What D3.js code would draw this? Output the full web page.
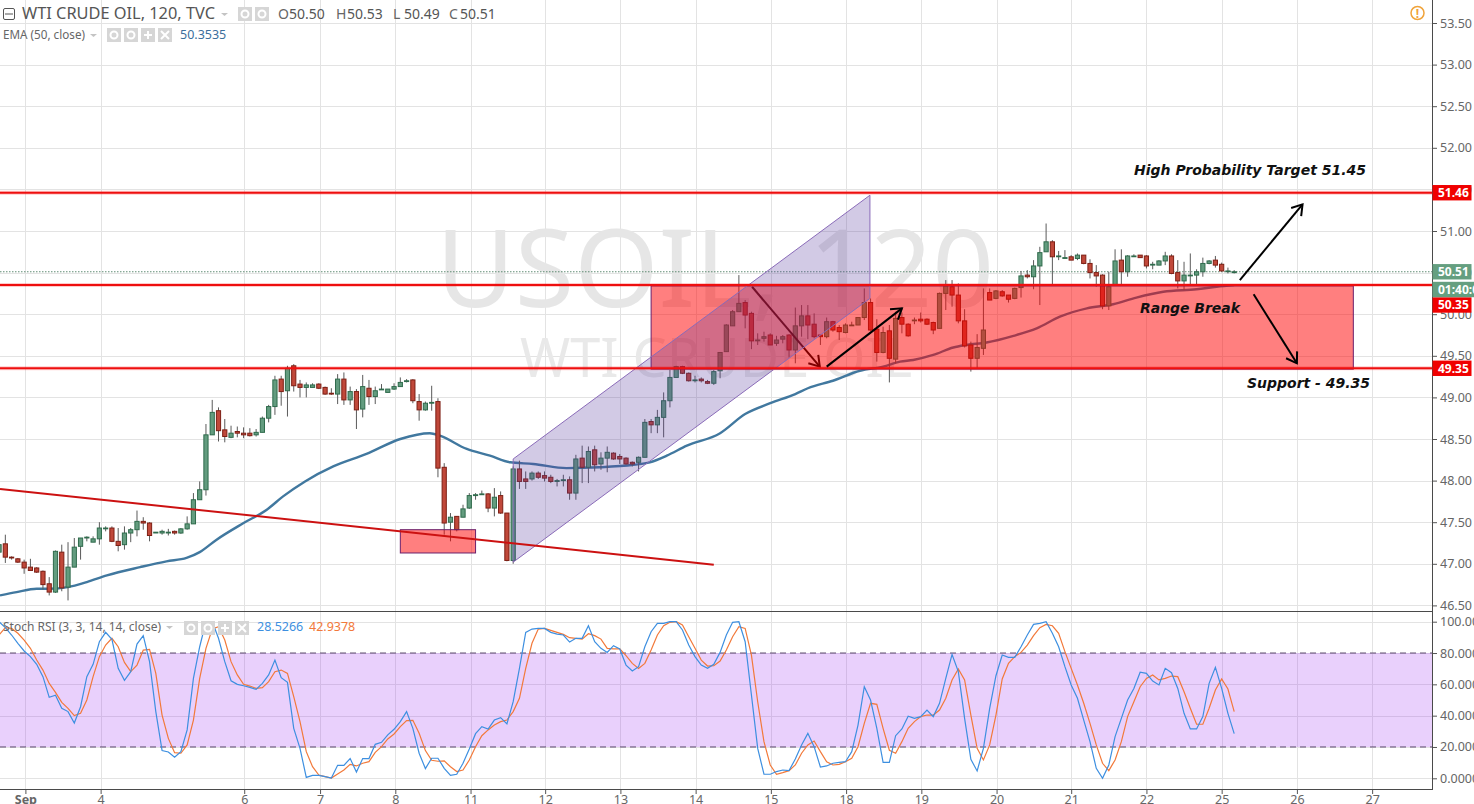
<!DOCTYPE html>
<html><head><meta charset="utf-8">
<script src="https://cdn.jsdelivr.net/npm/d3@7/dist/d3.min.js"></script>
<style>html,body{margin:0;padding:0;background:#fff;overflow:hidden}svg{display:block}</style>
</head><body><svg id="c" width="1474" height="804"></svg>
<script>
const opens=[47.14,47.24,47.08,47.06,47.02,46.96,46.95,46.91,46.76,46.66,
47.14,46.72,46.96,47.21,47.32,47.26,47.30,47.43,47.43,47.27,
47.23,47.37,47.41,47.51,47.49,47.38,47.37,47.38,47.39,47.37,
47.42,47.48,47.77,47.89,48.55,48.84,48.61,48.52,48.59,48.57,
48.57,48.55,48.58,48.75,48.89,49.22,49.08,49.38,49.16,49.12,
49.12,49.16,49.12,49.05,49.04,49.22,48.97,49.07,48.86,49.11,
49.01,49.10,49.06,49.10,49.13,49.20,49.21,48.95,48.85,48.94,
48.95,48.16,47.50,47.57,47.56,47.67,47.82,47.84,47.84,47.67,
47.82,47.61,47.04,48.14,48.02,48.02,48.09,48.06,48.04,47.99,
48.01,48.01,47.85,48.27,48.16,48.37,48.20,48.27,48.33,48.29,
48.27,48.22,48.22,48.28,48.71,48.67,48.76,48.96,49.24,49.37,
49.29,49.21,49.22,49.19,49.17,49.32,49.55,49.86,50.03,50.14,
50.01,49.69,49.71,49.75,49.65,49.70,49.75,49.57,49.86,49.98,
49.88,49.75,49.73,49.91,49.84,49.78,49.87,49.87,49.96,50.14,
49.82,49.54,49.80,49.46,49.96,49.88,49.93,49.94,49.94,49.90,
49.83,50.25,50.33,50.23,49.92,49.63,49.47,49.59,50.26,50.19,
50.27,50.23,50.19,50.32,50.47,50.45,50.58,50.75,50.87,50.70,
50.68,50.69,50.67,50.71,50.61,50.50,50.47,50.10,50.35,50.65,
50.51,50.70,50.71,50.70,50.60,50.59,50.64,50.70,50.50,50.40,
50.47,50.47,50.51,50.61,50.65,50.60,50.52,50.50];
const highs=[47.25,47.35,47.09,47.07,47.05,47.06,46.96,46.92,46.84,47.16,
47.23,47.26,47.31,47.31,47.33,47.33,47.50,47.45,47.45,47.43,
47.45,47.43,47.64,47.56,47.50,47.38,47.41,47.42,47.40,47.43,
47.57,47.85,47.99,48.68,48.97,48.88,48.74,48.66,48.65,48.64,
48.63,48.62,48.77,48.91,49.26,49.26,49.38,49.40,49.21,49.18,
49.17,49.17,49.13,49.11,49.28,49.30,49.13,49.10,49.27,49.21,
49.13,49.16,49.10,49.17,49.24,49.22,49.22,49.04,48.95,49.14,
48.99,48.21,47.61,47.57,47.71,47.85,47.85,47.88,47.85,47.91,
47.87,47.61,48.17,48.24,48.11,48.11,48.11,48.11,48.07,48.02,
48.07,48.05,48.31,48.42,48.41,48.42,48.34,48.41,48.34,48.32,
48.28,48.23,48.29,48.74,48.74,48.85,49.06,49.33,49.38,49.38,
49.30,49.26,49.24,49.21,49.33,49.54,49.88,50.05,50.47,50.17,
50.03,49.77,49.79,49.77,49.74,49.75,49.76,50.08,50.11,50.11,
50.01,49.75,49.96,49.92,49.87,49.89,49.91,49.96,50.31,50.19,
49.94,49.85,49.87,50.03,50.02,49.89,49.96,50.02,49.95,49.91,
50.26,50.41,50.41,50.37,50.06,49.67,49.76,50.31,50.31,50.29,
50.29,50.23,50.32,50.52,50.53,50.65,50.81,51.09,50.89,50.76,
50.77,50.71,50.73,50.71,50.66,50.59,50.48,50.51,50.78,50.78,
50.71,50.72,50.71,50.71,50.63,50.65,50.75,50.72,50.65,50.63,
50.73,50.54,50.68,50.65,50.70,50.62,50.56,50.53];
const lows=[47.10,47.01,47.05,47.01,46.88,46.92,46.89,46.69,46.62,46.65,
46.67,46.56,46.96,47.05,47.27,47.26,47.23,47.39,47.26,47.15,
47.17,47.26,47.33,47.41,47.27,47.37,47.35,47.34,47.35,47.36,
47.41,47.48,47.77,47.82,48.55,48.47,48.46,48.51,48.52,48.51,
48.53,48.53,48.58,48.70,48.79,48.90,48.77,49.07,49.00,49.00,
49.12,49.10,49.03,49.03,48.92,48.91,48.91,48.62,48.76,48.91,
48.92,49.09,49.06,49.09,49.13,49.18,48.93,48.72,48.84,48.84,
48.04,47.35,47.27,47.39,47.56,47.66,47.77,47.83,47.62,47.57,
47.60,47.03,47.00,47.90,47.90,48.00,48.02,47.99,47.97,47.93,
47.93,47.77,47.77,47.97,47.97,48.11,48.13,48.10,48.25,48.20,
48.19,48.17,48.11,48.28,48.57,48.57,48.52,48.88,49.24,49.28,
49.19,49.18,49.18,49.16,49.15,49.23,49.55,49.86,50.03,49.83,
49.58,49.63,49.67,49.63,49.62,49.65,49.48,49.41,49.73,49.70,
49.71,49.63,49.71,49.79,49.69,49.77,49.86,49.87,49.93,49.80,
49.43,49.53,49.18,49.41,49.77,49.73,49.88,49.90,49.87,49.76,
49.83,50.05,50.09,49.89,49.60,49.31,49.35,49.51,50.17,50.18,
50.21,50.14,50.18,50.20,50.43,50.30,50.11,50.75,50.35,50.65,
50.67,50.65,50.65,50.60,50.43,50.33,50.06,50.05,50.35,50.35,
50.45,50.69,50.68,50.55,50.54,50.59,50.59,50.48,50.31,50.29,
50.34,50.35,50.45,50.60,50.56,50.51,50.49,50.49];
const closes=[47.23,47.08,47.07,47.02,46.95,46.92,46.90,46.75,46.66,47.15,
46.71,46.96,47.20,47.31,47.32,47.30,47.43,47.43,47.27,47.22,
47.37,47.41,47.51,47.49,47.34,47.38,47.39,47.38,47.37,47.42,
47.48,47.77,47.89,48.55,48.82,48.60,48.53,48.57,48.57,48.55,
48.54,48.58,48.75,48.89,49.21,49.07,49.35,49.14,49.12,49.15,
49.15,49.11,49.04,49.04,49.22,48.97,49.07,48.85,49.13,49.01,
49.08,49.10,49.10,49.13,49.18,49.20,48.96,48.85,48.93,48.94,
48.15,47.49,47.56,47.41,47.66,47.82,47.83,47.84,47.67,47.80,
47.61,47.04,48.14,47.99,47.99,48.09,48.04,48.03,47.99,48.00,
48.01,47.85,48.26,48.16,48.35,48.19,48.27,48.34,48.26,48.26,
48.20,48.20,48.28,48.70,48.67,48.76,48.96,49.24,49.37,49.29,
49.20,49.21,49.20,49.17,49.31,49.54,49.87,50.03,50.13,49.99,
49.68,49.69,49.73,49.63,49.69,49.73,49.57,49.86,49.98,49.87,
49.73,49.73,49.91,49.81,49.79,49.87,49.87,49.96,50.14,49.81,
49.54,49.78,49.47,49.95,49.88,49.74,49.93,49.92,49.88,49.81,
50.25,50.34,50.23,49.92,49.62,49.47,49.60,49.81,50.17,50.28,
50.22,50.18,50.31,50.46,50.45,50.58,50.74,50.87,50.69,50.70,
50.68,50.65,50.71,50.61,50.50,50.46,50.10,50.33,50.64,50.51,
50.70,50.70,50.68,50.58,50.60,50.64,50.70,50.49,50.40,50.47,
50.47,50.51,50.61,50.64,50.59,50.52,50.52,50.51];

const emaBars=[0.15,2.8,6,8,11,14,17.2,22.5,26.7,29.9,32,34.7,39,42.7,45.3,48.8,53.3,58.6,64,68.7,70.3,74.6,78.3,81.5,85.2,90.5,95.8,101.2,103.8,106.5,109.7,115,119,123,127,129,133,137.3,141,143.7,145.8,149,152.2,154.3,157.5,161.8,165.5,169.2,173.5,177.7,181.4,185.7,191,194.2,197];
const emaVals=[46.62,46.66,46.70,46.70,46.72,46.78,46.86,46.96,47.03,47.07,47.14,47.29,47.49,47.65,47.81,47.99,48.17,48.32,48.50,48.57,48.54,48.38,48.30,48.22,48.20,48.15,48.16,48.19,48.22,48.30,48.42,48.57,48.80,48.93,49.04,49.11,49.20,49.32,49.37,49.43,49.45,49.51,49.60,49.63,49.66,49.74,49.83,49.97,50.07,50.12,50.20,50.27,50.30,50.33,50.35];

const stochK=[100,96.2,91.5,86.2,81.3,77.7,72.8,64.9,51.7,53,44.7,42.6,35.3,45.7,64.9,72.8,87.2,93.2,88.7,70.2,
62.6,68.1,85.7,91.1,74.5,42.6,17.7,16.8,13.4,17,30.9,63.8,84,100,100,89.4,74.5,62.3,60,59.1,
58.1,56.8,60.6,66,75.5,64.3,61.3,31.9,19.1,0.6,1.9,1.9,1.1,0.2,8.3,8.3,12.6,4,12.6,12.6,
21.7,23,27.7,31.3,36.2,42.6,31.9,16,6.2,12.8,12.8,6.4,1.9,2.6,9.6,18.7,28.5,33,31.5,37.2,
38.7,34.7,48.9,70.2,93.2,95.3,95.7,95.7,93.2,92.1,91.5,87,89.4,89.4,97.4,87.2,83,80.4,84.7,82.6,
72.3,68.5,71.3,84,93.6,98.9,98.9,100,100,94.7,85.1,77.7,72.3,70.2,72.8,80.4,91.5,99.6,100,87.2,
53.2,19.1,2.6,2.6,4.3,5.3,4.9,12.3,21.3,28.7,20.2,7.2,7.9,9.6,10.2,10.6,17,34,58.5,50,
31.9,10.2,10.2,27.2,31.5,39.6,38.3,39.4,43.6,39.4,47.9,63.8,79.1,68.1,38.3,12.1,4.7,19.1,44.7,65.5,
78.7,77.2,77.2,84,91.5,98.3,98.9,100,92.6,84,71.3,59.6,51.1,37.2,23.4,6.4,0,8.5,26.6,38.3,
50,57.4,67.7,67,62.1,59.6,70.2,67.4,57.4,41.5,31.5,31.5,39.4,60.6,70.9,57.4,41.5,28.5];
const stochD=[91.5,96.2,95.7,92.6,88.3,83,75.5,69.1,60.6,54.9,48.5,44.7,40,41.5,50,64.9,77.7,85.1,89.4,84,
74,68.1,72.3,81.9,82.3,67,40.4,25.5,16.4,16,21.3,37.2,63.8,83,95.3,96.8,88.3,74.5,66,60,
58.9,57.4,57.9,61.7,68.1,69.1,67,52.1,36.2,17,7.4,2.1,1.1,0.2,2.8,5.3,8.9,7.9,9.6,10.6,
16.6,20.2,25.1,28.3,33,36.8,37,28.7,17.7,11.5,10.9,11.1,7.4,4.3,5.3,11.7,20.2,27.2,30.9,34,
36.2,37.2,42.6,51.1,70.2,86.2,95.3,95.7,94.5,93.2,91.9,89.8,89.4,88.9,92.3,91.1,88.9,83,82.6,82.6,
78.3,73.4,70.2,73.4,81.9,91.5,97.4,99.6,100,97.9,90.4,83,75.5,71.7,71.9,74.9,81.9,90.4,96.8,95.7,
78.7,48.9,23.4,8.5,2.6,3.6,4.9,8.5,16,21.3,23.8,17,10.6,8.5,8.9,10.6,12.8,20.2,35.1,47.9,
47.2,31.9,17.9,16,23.4,31.9,36.2,39.4,40.4,40.4,43.6,51.1,62.8,69.8,62.8,40.4,19.1,11.7,21.3,40.4,
63.4,73.4,77.7,80.4,85.1,91.1,96.2,98.3,97.4,92.6,80.9,70.2,59.6,47.9,35.1,21.3,9.6,4.9,11.7,23.4,
39.4,48.9,58.5,63.8,66,62.8,63.8,65.3,64.9,55.3,44.7,34.5,34.5,44.7,56.4,63.4,57,42.6];

const priceTicks=[46.5,47,47.5,48,48.5,49,49.5,50,50.5,51,51.5,52,52.5,53,53.5];
const stochTicks=[0,20,40,60,80,100];
const dayBars=[4.2,16.2,39.1,51.2,63.2,75.2,87.1,99.1,111.1,123.1,135.1,147.1,159.1,171,183,195,207,219];
const dayLabels=["Sep","4","6","7","8","11","12","13","14","15","18","19","20","21","22","25","26","27"];
const levels=[51.46,50.35,49.35];
const lastPrice=50.51;
const trendBars=[0.15,114], trendVals=[47.90,46.99];
const bigRange={bars:[104,216],vals:[50.34,49.34]};
const smallRange={bars:[64,76],vals:[47.41,47.13]};
const channelBars=[82,138.9,138.9,82], channelVals=[48.26,51.43,50.19,47.02];
const arrowUnder=[[120.1,50.33,130.9,49.37]];
const arrowsOver=[[132,49.37,144,50.07],[197.9,50.41,207.9,51.32],[200.1,50.24,207,49.41]];

const W=1474,H=804,R=1432,PB=611,SB=789;
const FONT='"Noto Sans",sans-serif';
const svg=d3.select("#c");
const x=d3.scaleLinear().domain([0,197]).range([-0.94,1234.2]);
const y=d3.scaleLinear().domain([51,50]).range([231,314.2]);
const s=d3.scaleLinear().domain([0,100]).range([778.3,621.7]);

const defs=svg.append("defs");
defs.append("clipPath").attr("id","cp").append("rect").attr("x",0).attr("y",0).attr("width",R).attr("height",PB);
defs.append("clipPath").attr("id","cs").append("rect").attr("x",0).attr("y",PB+1).attr("width",R).attr("height",SB-PB-1);
const mk=(id,col)=>defs.append("marker").attr("id",id).attr("markerUnits","userSpaceOnUse").attr("markerWidth",24).attr("markerHeight",24)
  .attr("refX",12).attr("refY",12).attr("orient","auto").attr("overflow","visible")
  .append("path").attr("d","M2,5.5L12,12L2,18.5").attr("fill","none").attr("stroke",col).attr("stroke-width",2);
mk("ah","#000");

// grid
const grid=svg.append("g").attr("stroke","#e3e3e3").attr("stroke-width",1).attr("shape-rendering","crispEdges");
grid.selectAll(".v").data(dayBars).join("line").attr("x1",d=>Math.round(x(d))+.5).attr("x2",d=>Math.round(x(d))+.5).attr("y1",0).attr("y2",SB);
grid.selectAll(".h").data(priceTicks).join("line").attr("x1",0).attr("x2",R).attr("y1",d=>Math.round(y(d))+.5).attr("y2",d=>Math.round(y(d))+.5);
grid.selectAll(".s").data(stochTicks).join("line").attr("x1",0).attr("x2",R).attr("y1",d=>Math.round(s(d))+.5).attr("y2",d=>Math.round(s(d))+.5);

// watermark
const pane=svg.append("g").attr("clip-path","url(#cp)");
pane.append("text").attr("x",715).attr("y",307).attr("text-anchor","middle").attr("font-family",FONT).attr("font-size",108).attr("fill","#e6e6e6").text("USOIL, 120");
pane.append("text").attr("x",716).attr("y",377).attr("text-anchor","middle").attr("font-family",FONT).attr("font-size",54).attr("fill","#e9e9e9").text("WTI CRUDE OIL");

// last price dotted
pane.append("line").attr("x1",0).attr("x2",R).attr("y1",y(lastPrice)).attr("y2",y(lastPrice)).attr("stroke","#5d8a72").attr("stroke-width",1).attr("stroke-dasharray","1.5,1.5");

// EMA
const ema=emaBars.map((b,i)=>[b,emaVals[i]]);
pane.append("path").attr("d",d3.line().x(d=>x(d[0])).y(d=>y(d[1])).curve(d3.curveMonotoneX)(ema)).attr("fill","none").attr("stroke","#41789f").attr("stroke-width",2.4);

// candles
const bars=opens.map((o,i)=>({i,o,h:highs[i],l:lows[i],c:closes[i]}));
const cg=pane.append("g").selectAll("g").data(bars).join("g");
cg.append("line").attr("x1",d=>x(d.i)).attr("x2",d=>x(d.i)).attr("y1",d=>y(d.h)).attr("y2",d=>y(d.l)).attr("stroke","#5a5a5a").attr("stroke-width",1);
cg.append("rect").attr("x",d=>x(d.i)-2.1).attr("width",4.2)
  .attr("y",d=>y(Math.max(d.o,d.c))).attr("height",d=>Math.max(.8,Math.abs(y(d.o)-y(d.c))))
  .attr("fill",d=>d.c>=d.o?"#639c7f":"#c0483a").attr("stroke",d=>d.c>=d.o?"#2f6b4c":"#7d1f14").attr("stroke-width",1);

const arrow=(g,a)=>g.append("line").attr("x1",x(a[0])).attr("y1",y(a[1])).attr("x2",x(a[2])).attr("y2",y(a[3])).attr("stroke","#000").attr("stroke-width",2).attr("marker-end","url(#ah)");
arrowUnder.forEach(a=>arrow(pane,a));

// rects
const rr=(r)=>pane.append("rect").attr("x",x(r.bars[0])).attr("y",y(r.vals[0])).attr("width",x(r.bars[1])-x(r.bars[0])).attr("height",y(r.vals[1])-y(r.vals[0]))
  .attr("fill","rgba(255,0,0,.5)").attr("stroke","#6b1f6b").attr("stroke-width",1);
rr(bigRange);rr(smallRange);

// channel
pane.append("polygon").attr("points",channelBars.map((b,i)=>[x(b),y(channelVals[i])].join(",")).join(" "))
  .attr("fill","rgba(90,60,160,.27)").attr("stroke","#8a6bb8").attr("stroke-width",1);

// horizontal levels
levels.forEach(v=>{
  pane.append("line").attr("x1",0).attr("x2",R).attr("y1",y(v)).attr("y2",y(v)).attr("stroke","rgba(255,0,0,.2)").attr("stroke-width",4);
  pane.append("line").attr("x1",0).attr("x2",R).attr("y1",y(v)).attr("y2",y(v)).attr("stroke","#ee0f0f").attr("stroke-width",2);
});
// trend line
pane.append("line").attr("x1",x(trendBars[0])).attr("y1",y(trendVals[0])).attr("x2",x(trendBars[1])).attr("y2",y(trendVals[1])).attr("stroke","#cc1111").attr("stroke-width",2);
arrowsOver.forEach(a=>arrow(pane,a));

// annotations
const note=(t,xx,yy,w)=>svg.append("text").attr("x",xx).attr("y",yy).attr("font-family",'"DejaVu Sans",sans-serif').attr("font-weight","bold").attr("font-style","italic").attr("font-size",14).attr("fill","#111").attr("textLength",w).attr("lengthAdjust","spacingAndGlyphs").text(t);
note("High Probability Target 51.45",1134,175,232);
note("Range Break",1140,313,100);
note("Support - 49.35",1247,388,123);

// stoch pane
const sp=svg.append("g").attr("clip-path","url(#cs)");
sp.append("rect").attr("x",0).attr("width",R).attr("y",s(80)).attr("height",s(20)-s(80)).attr("fill","rgba(156,39,240,.22)");
[80,20].forEach(v=>sp.append("line").attr("x1",0).attr("x2",R).attr("y1",s(v)).attr("y2",s(v)).attr("stroke","#5c4a6c").attr("stroke-width",1).attr("stroke-dasharray","6,4"));
const ln=d3.line().x((d,i)=>x(i)).y(d=>s(d));
sp.append("path").attr("d",ln(stochD)).attr("fill","none").attr("stroke","#f2793a").attr("stroke-width",1.2);
sp.append("path").attr("d",ln(stochK)).attr("fill","none").attr("stroke","#3d8fe0").attr("stroke-width",1.2);

// axes
const styleAxis=g=>{g.selectAll("path.domain").remove();g.selectAll("line").attr("stroke","#555");g.selectAll("text").attr("fill","#666").attr("font-family",FONT).attr("font-size",12.5);};
svg.append("g").attr("transform",`translate(${R},0)`).call(d3.axisRight(y).tickValues(priceTicks).tickFormat(d3.format(".2f")).tickSize(5).tickPadding(3)).call(styleAxis);
svg.append("g").attr("transform",`translate(${R},0)`).call(d3.axisRight(s).tickValues(stochTicks).tickFormat(d3.format(".4f")).tickSize(5).tickPadding(3)).call(styleAxis);
svg.append("g").attr("transform",`translate(0,${SB})`).call(d3.axisBottom(x).tickValues(dayBars).tickFormat((d,i)=>dayLabels[i]).tickSize(5).tickPadding(1)).call(styleAxis)
  .selectAll("text").attr("font-weight",(d,i)=>i==0?"bold":"normal");
const frame=svg.append("g").attr("stroke","#4a4a4a").attr("stroke-width",1).attr("shape-rendering","crispEdges");
frame.append("line").attr("x1",R+.5).attr("x2",R+.5).attr("y1",0).attr("y2",SB);
frame.append("line").attr("x1",0).attr("x2",R+.5).attr("y1",SB+.5).attr("y2",SB+.5);
frame.append("line").attr("x1",0).attr("x2",R+.5).attr("y1",PB+.5).attr("y2",PB+.5);

// price tags
const tag=(t,cy,col,wd)=>{svg.append("rect").attr("x",R+.5).attr("y",cy-7.7).attr("width",wd).attr("height",15.4).attr("fill",col);
 svg.append("text").attr("x",R+6).attr("y",cy+4.3).attr("font-family",FONT).attr("font-weight","bold").attr("font-size",12).attr("fill","#fff").text(t);};
tag("51.46",y(51.46),"#f00000",39);
tag("50.51",y(lastPrice),"#659f80",39);
tag("50.35",305,"#f00000",39);
tag("49.35",y(49.35),"#f00000",39);
tag("01:40:0",289.5,"#659f80",42);

// legends
const txt=(t,xx,yy,sz,col,w)=>{const e=svg.append("text").attr("x",xx).attr("y",yy).attr("font-family",FONT).attr("font-size",sz).attr("fill",col).text(t);if(w)e.attr("textLength",w).attr("lengthAdjust","spacingAndGlyphs");return e;};
txt("WTI CRUDE OIL, 120, TVC",22,19,15.5,"#555",193);
svg.append("rect").attr("x",3.5).attr("y",8.5).attr("width",11).attr("height",11).attr("rx",1.5).attr("fill","none").attr("stroke","#555");
svg.append("line").attr("x1",5).attr("x2",13).attr("y1",14).attr("y2",14).attr("stroke","#555");
const caret=(xx,yy)=>svg.append("path").attr("d",`M${xx},${yy}l7,0l-3.5,3z`).attr("fill","#c4c4c4");
caret(221,13);
const icons=(xs,yy,sz)=>xs.forEach(xx=>svg.append("rect").attr("x",xx).attr("y",yy).attr("width",sz).attr("height",sz).attr("fill","#d6d6d6"));
const glyph=(xx,yy,k)=>{const c=svg.append("g").attr("transform",`translate(${xx+7},${yy+7})`).attr("stroke","#fff").attr("fill","none").attr("stroke-width",2);
 if(k=="o")c.append("circle").attr("r",3.5);
 if(k=="+")c.append("path").attr("d","M-4,0H4M0,-4V4");
 if(k=="x")c.append("path").attr("d","M-4,-4L4,4M4,-4L-4,4");};
icons([238,255],7,14);glyph(238,7,"o");glyph(255,7,"o");
[["O","50.50",278],["H","50.53",336],["L","50.49",393],["C","50.51",449]].forEach(d=>{txt(d[0],d[2],19,14,"#666");txt(d[1],d[2]+11,19,14,"#555");});
txt("EMA (50, close)",3,39,12.5,"#666",82);caret(90,34);
icons([107,124,141,158],28,14);["o","o","+","x"].forEach((k,i)=>glyph([107,124,141,158][i],28,k));
txt("50.3535",180,39,12.5,"#3c6f9c");
txt("Stoch RSI (3, 3, 14, 14, close)",3,631,12.5,"#666",158);caret(166,626);
icons([184,201,218,235],621,14);["o","o","+","x"].forEach((k,i)=>glyph([184,201,218,235][i],621,k));
txt("28.5266",257,631,12.5,"#3d8fe0");
txt("42.9378",309,631,12.5,"#f2793a");
// alert icon
svg.append("circle").attr("cx",1417.5).attr("cy",13).attr("r",6.5).attr("fill","none").attr("stroke","#f0a33a").attr("stroke-width",1.5);
svg.append("text").attr("x",1417.5).attr("y",17.5).attr("text-anchor","middle").attr("font-family",FONT).attr("font-weight","bold").attr("font-size",12).attr("fill","#f0a33a").text("!");
</script></body></html>
